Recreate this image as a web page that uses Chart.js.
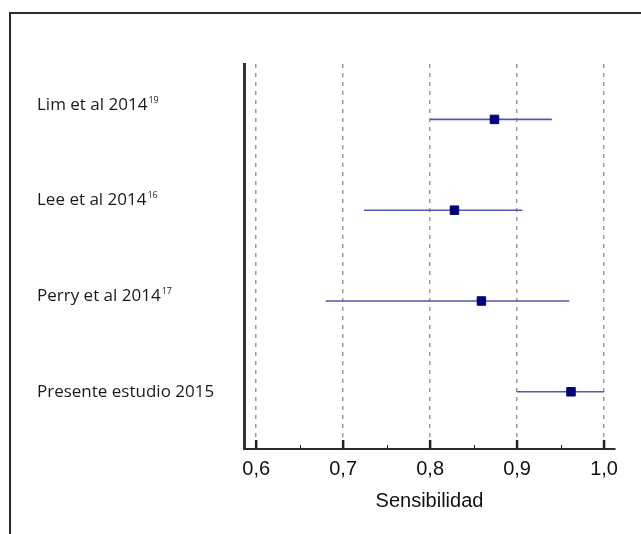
<!DOCTYPE html>
<html>
<head>
<meta charset="utf-8">
<script src="https://cdn.jsdelivr.net/npm/chart.js@4/dist/chart.umd.min.js"></script>
<style>
	body { margin: 0; background: #fff; }
	#wrap { position: relative; width: 641px; height: 534px; overflow: hidden; }
	#frame { position: absolute; left: 9px; top: 12px; width: 700px; height: 600px;
		border-top: 2px solid #2b2b2b; border-left: 2px solid #2b2b2b; }
	canvas { position: absolute; left: 0; top: 0; }
</style>
</head>
<body>
<div id="wrap">
	<div id="frame"></div>
	<canvas id="chart" width="641" height="534"></canvas>
</div>
<script>
// estudios (de arriba a abajo)
var studies = ['Lim et al 2014', 'Lee et al 2014', 'Perry et al 2014', 'Presente estudio 2015'];
var refs = ['19', '16', '17', ''];
var sens = [0.874, 0.828, 0.859, 0.962];
var ciLow = [0.80, 0.724, 0.680, 0.90];
var ciHigh = [0.94, 0.906, 0.960, 1.00];

var majorTicks = [0.6, 0.7, 0.8, 0.9, 1.0];
var majorLabels = ['0,6', '0,7', '0,8', '0,9', '1,0'];
var minorTicks = [0.65, 0.75, 0.85, 0.95];

var datasets = [];
for (var i in studies) {
	var row = Number(i) + 1;
	datasets.push({
		label: studies[i] + ' IC',
		data: [{x: ciLow[i], y: row}, {x: ciHigh[i], y: row}],
		showLine: true,
		borderColor: '#5454b4',
		borderWidth: 1.6,
		pointRadius: 0,
		order: 2
	});
}
datasets.push({
	label: 'Sensibilidad',
	data: sens.map(function(v, i){ return {x: v, y: i + 1}; }),
	pointStyle: 'rect',
	pointRadius: 6,
	backgroundColor: '#00007a',
	borderColor: '#00007a',
	borderWidth: 1,
	order: 1
});

// etiquetas de la izquierda con superindice
var studyLabels = {
	id: 'studyLabels',
	afterDraw: function(chart){
		var ctx = chart.ctx;
		var ys = chart.scales.y;
		var n = studies.length;
		ctx.save();
		ctx.fillStyle = '#1a1a1a';
		ctx.textBaseline = 'middle';
		ctx.textAlign = 'left';
		for (var i = 0; i < n; i++) {
			var y = ys.getPixelForValue(i + 1) - (n - 1 - i) * 4.8;
			ctx.font = '17px "Open Sans"';
			ctx.fillText(studies[i], 37, y);
			var w = ctx.measureText(studies[i]).width;
			if (refs[i]) {
				ctx.font = '9px "Open Sans"';
				ctx.fillText(refs[i], 37 + w + 1, y - 5);
			}
		}
		ctx.restore();
	}
};

// marcas del eje x hacia adentro
var innerTicks = {
	id: 'innerTicks',
	afterDraw: function(chart){
		var ctx = chart.ctx;
		var xs = chart.scales.x;
		var b = chart.chartArea.bottom;
		ctx.save();
		ctx.strokeStyle = '#222';
		ctx.lineWidth = 2.5;
		majorTicks.forEach(function(v){
			var px = xs.getPixelForValue(v);
			ctx.beginPath(); ctx.moveTo(px, b); ctx.lineTo(px, b - 9); ctx.stroke();
		});
		ctx.lineWidth = 1;
		minorTicks.forEach(function(v){
			var px = Math.round(xs.getPixelForValue(v)) + 0.5;
			ctx.beginPath(); ctx.moveTo(px, b); ctx.lineTo(px, b - 4); ctx.stroke();
		});
		ctx.restore();
	}
};

var ctx = document.getElementById('chart').getContext('2d');
var forest = new Chart(ctx, {
	type: 'scatter',
	data: { datasets: datasets },
	options: {
		responsive: false,
		animation: false,
		layout: { padding: { left: 236, right: 26, top: 64, bottom: 21 } },
		plugins: { legend: { display: false }, tooltip: { enabled: false } },
		scales: {
			x: {
				type: 'linear',
				min: 0.586,
				max: 1.0126,
				afterBuildTicks: function(scale){
					scale.ticks = majorTicks.map(function(v){ return {value: v}; });
				},
				ticks: {
					padding: 10,
					color: '#111',
					font: { family: '"Liberation Sans", Arial', size: 20, lineHeight: 1.0 },
					callback: function(v){
						var k = majorTicks.indexOf(v);
						return k >= 0 ? majorLabels[k] : '';
					}
				},
				grid: { color: '#9a9a9a', lineWidth: 1.5, drawTicks: false },
				border: { display: true, color: '#2b2b2b', width: 2, dash: [4, 5] },
				title: {
					display: true,
					text: 'Sensibilidad',
					color: '#111',
					font: { family: '"Liberation Sans", Arial', size: 20 },
					padding: { top: 0, bottom: 0 }
				}
			},
			y: {
				type: 'linear',
				reverse: true,
				min: 0.39,
				max: 4.63,
				ticks: { display: false },
				grid: { display: false },
				border: { display: true, color: '#333', width: 3 }
			}
		}
	},
	plugins: [studyLabels, innerTicks]
});
</script>
</body>
</html>
